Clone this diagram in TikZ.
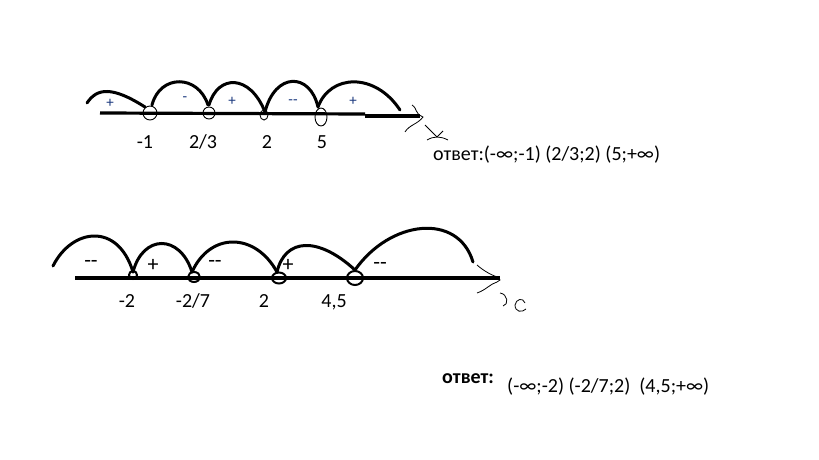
\documentclass[tikz,border=0pt]{standalone}
\usepackage{fontspec}
\setmainfont{Carlito}
\usepackage{tikz}
\usetikzlibrary{positioning}
\definecolor{sgnblue}{RGB}{25,55,125}

\begin{document}
\begin{tikzpicture}[x=1pt,y=-1pt,
  axis/.style={line width=3.2pt},
  hump/.style={line width=3pt,line cap=round},
  hole/.style={line width=0.9pt},
  bighole/.style={line width=2pt},
  scrib/.style={line width=0.8pt},
  lbl/.style={font=\fontsize{20}{24}\selectfont,anchor=base,inner sep=0pt},
  tsgn/.style={font=\fontsize{15}{18}\selectfont,text=sgnblue,inner sep=0pt},
  bsgn/.style={font=\fontsize{22}{26}\selectfont,inner sep=0pt},
  ans/.style={font=\fontsize{20}{24}\selectfont,anchor=base west,inner sep=0pt}]
\useasboundingbox[fill=white] (0,0) rectangle (819,460);

% first number line
\coordinate (a0) at (100,113);
\coordinate (a1) at (365,114);
\coordinate (aend) at (420,116);
\draw[axis] (a0) -- (a1);
\draw[axis] (a1 |- aend) -- (aend);
\coordinate (p1) at (150,113);
\coordinate (p2) at (209,113);
\coordinate (p3) at (264,115);
\coordinate (p4) at (321,117);
\draw[hole] (p1) ellipse (7 and 7);
\draw[hole] (p2) ellipse (6 and 6);
\draw[hole] (p3) ellipse (4 and 5);
\draw[hole] (p4) ellipse (6 and 9);
\draw[hump] (87,103) .. controls (97,88) and (112,86) .. (145,107);
\draw[hump] (152,105) .. controls (160,74) and (198,74) .. (208,105);
\draw[hump] (209,105) .. controls (218,74) and (250,74) .. (265,112);
\draw[hump] (265,112) .. controls (275,72) and (310,72) .. (318,107);
\draw[hump] (318,107) .. controls (330,74) and (375,72) .. (400,110);
\node[tsgn] (s1) at (110,103) {+};
\node[tsgn] (s2) at (185,99) {-};
\node[tsgn] (s3) at (232,101) {+};
\node[tsgn] (s4) at (293,102) {-{}-};
\node[tsgn] (s5) at (353,101) {+};
\node[lbl] (l1) at (145,148) {-1};
\node[lbl] (l2) at (203,148) {2/3};
\node[lbl] (l3) at (267,148) {2};
\node[lbl] (l4) at (322,148) {5};
\draw[scrib] (412,105) .. controls (418,109) and (414,113) .. (423,117)
  .. controls (418,124) and (409,125) .. (405,132);
\draw[scrib] (425,125) -- (437,137) -- (443,131);
\draw[scrib] (427,140) .. controls (434,136) and (440,136) .. (448,140);
\node[ans] (ans1) at (433,160) {ответ:(-∞;-1) (2/3;2) (5;+∞)};

% second number line
\coordinate (b0) at (75,278);
\coordinate (bend) at (500,278);
\draw[axis] (b0) -- (bend);
\coordinate (q1) at (133,275);
\coordinate (q2) at (194,277);
\coordinate (q3) at (279,278);
\coordinate (q4) at (355,278);
\draw[bighole] (q1) ellipse (4 and 4);
\draw[bighole] (q2) ellipse (6 and 5);
\draw[bighole] (q3) ellipse (7 and 5.5);
\draw[bighole] (q4) ellipse (8 and 7);
\draw[hump] (53,266) .. controls (72,228) and (118,222) .. (133,272);
\draw[hump] (133,272) .. controls (143,234) and (180,234) .. (192,272);
\draw[hump] (192,272) .. controls (210,232) and (255,232) .. (277,272);
\draw[hump] (277,272) .. controls (285,238) and (318,236) .. (355,270);
\draw[hump] (355,270) .. controls (390,220) and (458,212) .. (473,262);
\node[bsgn] (t1) at (91,264) {-{}-};
\node[bsgn] (t2) at (153,265) {+};
\node[bsgn] (t3) at (215,264) {-{}-};
\node[bsgn] (t4) at (288,265) {+};
\node[bsgn] (t5) at (380,266) {-{}-};
\node[lbl] (m1) at (127,307) {-2};
\node[lbl] (m2) at (193,307) {-2/7};
\node[lbl] (m3) at (264,307) {2};
\node[lbl] (m4) at (334,307) {4,5};
\draw[scrib] (477,265) .. controls (485,272) and (492,275) .. (497,277)
  -- (500,280) -- (497,282) .. controls (490,284) and (486,290) .. (477,293);
\draw[scrib] (500,293) .. controls (508,294) and (509,305) .. (503,306);
\draw[scrib] (525,303) .. controls (523,297) and (516,299) .. (515,305)
  .. controls (515,312) and (522,313) .. (526,309);
\node[ans,font=\fontsize{20}{24}\selectfont\bfseries] (ans2w) at (442,383) {ответ:};
\node[ans] (ans2) at (507,392) {(-∞;-2) (-2/7;2)\ \ (4,5;+∞)};
\end{tikzpicture}
\end{document}
